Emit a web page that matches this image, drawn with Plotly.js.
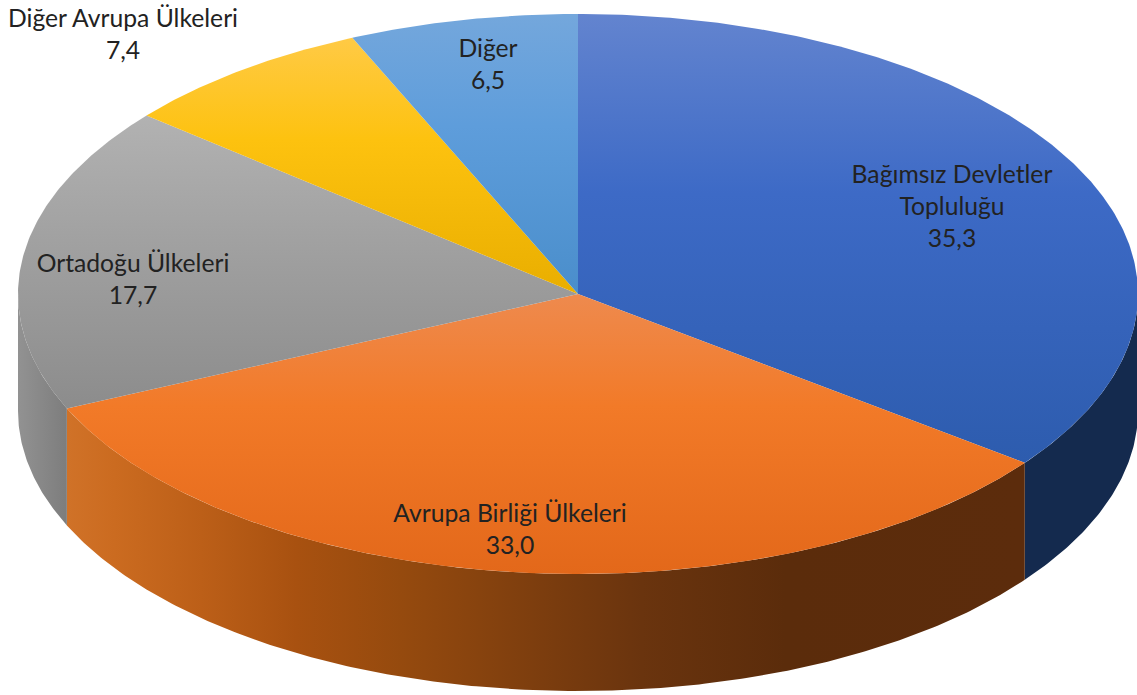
<!DOCTYPE html>
<html><head><meta charset="utf-8">
<script src="https://cdn.plot.ly/plotly-3.0.1.min.js"></script>
<style>html,body{margin:0;padding:0;background:#fff}#c{width:1137px;height:695px}</style>
</head><body><div id="c"></div>
<script>
const categories = ["Bağımsız Devletler<br>Topluluğu","Avrupa Birliği Ülkeleri","Ortadoğu Ülkeleri","Diğer Avrupa Ülkeleri","Diğer"];
const values = [35.3,33.0,17.7,7.4,6.5];
const labelX = [952,510,133,123,488];
const labelY = [209,531.5,281.5,36.5,66.5];
const topStops = [
 [[0,'#6384cf'],[0.4,'#3d6ac6'],[1,'#2d5cae']],
 [[0,'#ee8a4e'],[0.4,'#f27a28'],[1,'#e3681a']],
 [[0,'#b2b2b2'],[0.4,'#a2a2a2'],[1,'#8c8c8c']],
 [[0,'#ffca45'],[0.4,'#fdc20f'],[1,'#e9ae00']],
 [[0,'#74a7dc'],[0.4,'#5e9ddb'],[1,'#4a8ecb']]
];
const wallStops = [
 [[0,'#142a4e'],[1,'#142a4e']],
 [[0,'#d07228'],[0.05,'#cb6b20'],[0.14,'#bc5f18'],[0.24,'#a85110'],[0.35,'#954a0e'],[0.6,'#6a340e'],[0.75,'#5b2c0b'],[1,'#5c2c0c']],
 [[0,'#929292'],[1,'#7d7d7d']]
];
const cx=578, cy=294, rx=560, ry=280, depth=117, W=1137, H=695;
// shares are percentages; the last slice closes the circle over the rounding residue
let cum=[0]; values.forEach(v=>cum.push(cum[cum.length-1]+v/100*360));
cum[cum.length-1]=360;
const px=a=>cx+rx*Math.sin(a*Math.PI/180), py=a=>cy-ry*Math.cos(a*Math.PI/180);
function arc(a0,a1){const n=Math.max(2,Math.ceil((a1-a0)*2));const r=[];for(let i=0;i<=n;i++)r.push(a0+(a1-a0)*i/n);return r;}
const traces=[];
// side walls (front half only)
[0,1,2].forEach(i=>{
  const a0=Math.max(cum[i],90), a1=Math.min(cum[i+1],270);
  const as=arc(a0,a1), x0=as.map(px), y0=as.map(py);
  const xs=x0.concat(x0.slice().reverse()), ys=y0.concat(y0.slice().reverse().map(y=>y+depth));
  xs.push(xs[0]);ys.push(ys[0]);
  const lo=Math.min(...x0),hi=Math.max(...x0);
  traces.push({type:'scatter',mode:'lines',x:xs,y:ys,fill:'toself',line:{width:0},hoverinfo:'skip',showlegend:false,
    fillgradient:{type:'horizontal',start:lo,stop:hi,colorscale:wallStops[i]}});
});
// top faces, each gradient spanning its own slice
values.forEach((v,i)=>{
  const as=arc(cum[i],cum[i+1]);
  const xs=[cx].concat(as.map(px),[cx]), ys=[cy].concat(as.map(py),[cy]);
  traces.push({type:'scatter',mode:'lines',x:xs,y:ys,fill:'toself',line:{width:0},hoverinfo:'skip',showlegend:false,
    fillgradient:{type:'vertical',start:Math.min(...ys),stop:Math.max(...ys),colorscale:topStops[i]}});
});
traces.push({type:'scatter',mode:'text',x:labelX,y:labelY,
  text:categories.map((c,i)=>c+'<br>'+values[i].toFixed(1).replace('.',',')),
  textposition:'middle center',textfont:{family:'Lato, sans-serif',size:24.7,color:'#222'},hoverinfo:'skip',showlegend:false,cliponaxis:false});
Plotly.newPlot('c',traces,{width:W,height:H,margin:{l:0,r:0,t:0,b:0},paper_bgcolor:'#fff',plot_bgcolor:'#fff',
  xaxis:{range:[0,W],visible:false,fixedrange:true},yaxis:{range:[H,0],visible:false,fixedrange:true},showlegend:false},{displayModeBar:false,staticPlot:true});
</script></body></html>
